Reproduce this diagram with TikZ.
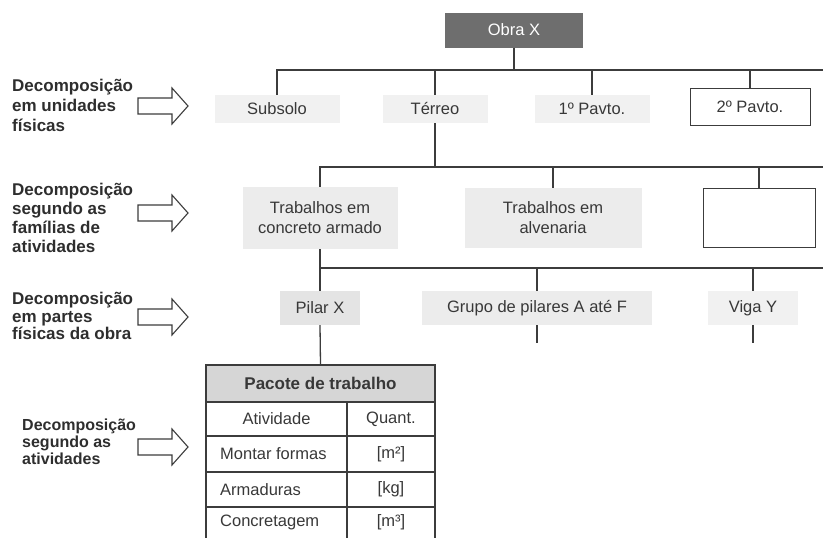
\documentclass[tikz,border=0pt]{standalone}
\usepackage{fontspec}
\setmainfont{Liberation Sans}
\definecolor{ln}{HTML}{3C3C3C}
\definecolor{txt}{HTML}{383838}
\definecolor{labtxt}{HTML}{2E2E2E}
\definecolor{obra}{HTML}{6E6E6E}
\definecolor{bgA}{HTML}{ECECEC}
\definecolor{bgB}{HTML}{F1F1F1}
\definecolor{bgC}{HTML}{E4E4E4}
\definecolor{hdr}{HTML}{D6D6D6}
\newcommand\blkarrow[1]{\draw[barrow] (138,#1-8) -- (172,#1-8) -- (172,#1-18) -- (188,#1) -- (172,#1+18) -- (172,#1+8) -- (138,#1+8) -- cycle;}
\begin{document}
\begin{tikzpicture}[x=1pt,y=-1pt,
  every node/.style={inner sep=0pt, text=txt, font=\fontsize{16.5}{20}\selectfont},
  line/.style={draw=ln, line width=1.3pt},
  tline/.style={draw=ln, line width=1.1pt},
  bg/.style={fill=#1, minimum height=28, align=center},
  lab/.style={anchor=west, align=left, text=labtxt, font=\bfseries\fontsize{17}{20}\selectfont},
  barrow/.style={draw=ln, line width=1.1pt, fill=white, line join=miter},
  cell/.style={font=\fontsize{16.5}{20}\selectfont},
  lcell/.style={cell, anchor=west},
]
\useasboundingbox (0,0) rectangle (823,538);

% left labels
\node[lab] (l1) at (12,105) {Decomposição\\em unidades\\físicas};
\node[lab, font=\bfseries\fontsize{17}{19}\selectfont] (l2) at (12,218) {Decomposição\\segundo as\\famílias de\\atividades};
\node[lab, font=\bfseries\fontsize{17}{17.5}\selectfont] (l3) at (12,316) {Decomposição\\em partes\\físicas da obra};
\node[lab, font=\bfseries\fontsize{16}{17}\selectfont] (l4) at (22,442) {Decomposição\\segundo as\\atividades};

\blkarrow{106}
\blkarrow{213}
\blkarrow{317}
\blkarrow{447}

% tree nodes
\node[fill=obra, minimum width=138, minimum height=35, text=white] (obra) at (514,30) {Obra X};
\node[bg=bgB, minimum width=125] (sub) at (277,109) {Subsolo};
\node[bg=bgB, minimum width=105] (ter) at (435,109) {Térreo};
\node[bg=bgB, minimum width=115] (p1) at (592,109) {1º Pavto.};
\node[draw=ln, line width=1pt, minimum width=120, minimum height=37] (p2) at (750,106.5) {2º Pavto.};

\node[bg=bgA, minimum width=155, minimum height=62] (conc) at (320,218) {Trabalhos em\\concreto armado};
\node[bg=bgA, minimum width=177, minimum height=60] (alv) at (553,218) {Trabalhos em\\alvenaria};
\node[draw=ln, line width=1pt, minimum width=112, minimum height=59] (emp) at (759,217.5) {};

\node[bg=bgC, minimum width=80, minimum height=34] (pil) at (320,308) {Pilar X};
\node[bg=bgA, minimum width=230, minimum height=34] (gru) at (537,308) {Grupo de pilares A até F};
\node[bg=bgB, minimum width=90, minimum height=34] (vig) at (753,308) {Viga Y};

% connectors
\coordinate (r1) at (823,70);
\coordinate (r2) at (823,167);
\coordinate (r3) at (823,268);
\draw[line] (sub.north) |- (r1);
\draw[line] (obra.south) -- (obra.south |- r1);
\draw[line] (ter.north |- r1) -- (ter.north);
\draw[line] (p1.north |- r1) -- (p1.north);
\draw[line] (p2.north |- r1) -- (p2.north);

\draw[line] (ter.south) -- (ter.south |- r2);
\draw[line] (conc.north) |- (r2);
\draw[line] (alv.north |- r2) -- (alv.north);
\draw[line] (emp.north |- r2) -- (emp.north);

\draw[line] (conc.south) -- (pil.north);
\draw[line] (conc.south |- r3) -- (r3);
\draw[line] (gru.north |- r3) -- (gru.north);
\draw[line] (vig.north |- r3) -- (vig.north);
\draw[line] (gru.south) -- ++(0,18);
\draw[line] (vig.south) -- ++(0,18);

% work package table
\node[fill=hdr, draw=ln, line width=1.1pt, minimum width=229, minimum height=37,
      font=\bfseries\fontsize{17}{20}\selectfont] (th) at (320.5,383.5) {Pacote de trabalho};
\draw[line] (pil.south) -- (th.north);
\draw[tline] (206,402) -- (206,538);
\draw[tline] (435,402) -- (435,538);
\draw[tline] (347,402) -- (347,538);
\draw[tline] (206,436) -- (435,436);
\draw[tline] (206,472) -- (435,472);
\draw[tline] (206,507) -- (435,507);

\node[cell] (c11) at (276.5,419) {Atividade};
\node[cell] (c12) at (391,419) {Quant.};
\node[lcell] (c21) at (220,454) {Montar formas};
\node[cell] (c22) at (391,454) {[m²]};
\node[lcell] (c31) at (220,489.5) {Armaduras};
\node[cell] (c32) at (391,489.5) {[kg]};
\node[lcell] (c41) at (220,522.5) {Concretagem};
\node[cell] (c42) at (391,522.5) {[m³]};
\end{tikzpicture}
\end{document}
